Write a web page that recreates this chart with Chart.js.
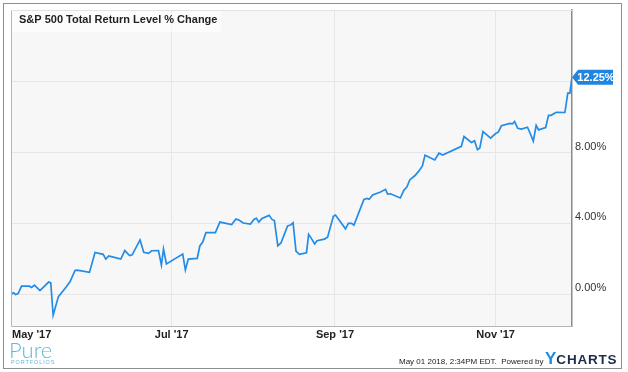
<!DOCTYPE html>
<html>
<head>
<meta charset="utf-8">
<script src="https://cdn.jsdelivr.net/npm/chart.js@4.4.1/dist/chart.umd.min.js"></script>
<style>
  html, body { margin: 0; padding: 0; background: #fff; }
  #wrap { position: relative; width: 628px; height: 372px; overflow: hidden; }
  #frame { position: absolute; left: 3px; top: 3px; width: 617px; height: 364px; border: 1px solid #8e8e8e; }
  #chart { position: absolute; left: 0; top: 0; }
  .txt { position: absolute; white-space: pre; font-family: "Liberation Sans", Arial, sans-serif; }
  #stamp { left: 399px; top: 357px; font-size: 8px; line-height: 10px; color: #222; }
  #brand { left: 545px; top: 350px; line-height: 18px; font-weight: bold; }
  #brand .y { font-size: 17px; color: #1a8fe3; }
  #brand .c { font-size: 13.5px; color: #1c2c4c; letter-spacing: 0.8px; }
  #pure { left: 9px; top: 339px; font-family: Lato, sans-serif; font-weight: 300; font-size: 22px; line-height: 21px; color: #62b9d3; }
  #pf { left: 11px; top: 359px; font-size: 5.5px; line-height: 6px; letter-spacing: 0.9px; color: #62b9d3; }
</style>
</head>
<body>
<div id="wrap">
  <div id="frame"></div>
  <canvas id="chart" width="628" height="372"></canvas>
  <div class="txt" id="stamp">May 01 2018, 2:34PM EDT.  Powered by</div>
  <div class="txt" id="brand"><span class="y">Y</span><span class="c">CHARTS</span></div>
  <div class="txt" id="pure">Pure</div>
  <div class="txt" id="pf">PORTFOLIOS</div>
</div>
<script>
// S&P 500 total return, % change since May 1 2017
// x = days since May 1 2017

const chartTitle = "S&P 500 Total Return Level % Change";
const monthDays = [0, 61, 123, 184];
const monthLabels = ["May '17", "Jul '17", "Sep '17", "Nov '17"];
const yTicks = [0, 4, 8, 12];

const days = [
  0, 1, 1.7, 2.7, 4, 7, 7.8, 8.9, 11, 14.3, 15.1, 16, 18, 20.5, 22.4, 24.3, 25.1, 29.8,
  31.9, 35, 36, 37.1, 39.2, 41.7, 43.2, 45, 46, 49, 50.4, 52.2, 53.4, 56, 57.1, 57.9,
  59, 65.2, 66.2, 67.3, 70.7, 71.7, 72.8, 74, 77.6, 79.3, 83.8, 85.4, 86.5, 88.2, 90.9,
  92.3, 93.2, 94.1, 95.3, 98, 99.1, 100, 101.3, 102.5, 105, 106.1, 107.1, 108.2, 109.5,
  112.2, 113, 114.2, 115.3, 116.2, 119, 120.2, 122.4, 123.2, 127, 128.1, 129.3, 130.2,
  134, 135.2, 136, 137.3, 140.3, 142.2, 143, 144.1, 147.8, 149.2, 150.3, 151.4, 153.4,
  154.9, 156.2, 157.2, 160.9, 162.5, 163.9, 171, 172, 174.8, 176, 177.1, 178, 179.2,
  182.1, 184, 185, 186.2, 189.4, 190.4, 191.2, 192.4, 193.8, 196.1, 197.1, 198.3, 199.4,
  200.3, 203, 204.1, 205.1, 207, 210.3, 211.4, 212.2, 213
];

const returns = [
  0.00, 0.08, -0.02, 0.03, 0.45, 0.45, 0.38, 0.51, 0.20, 0.68, 0.64, -1.19, -0.14, 0.32,
  0.70, 1.34, 1.36, 1.23, 2.35, 2.25, 1.98, 2.16, 2.08, 1.98, 2.46, 2.18, 2.22, 3.06,
  2.36, 2.30, 2.45, 2.46, 1.64, 2.55, 1.71, 2.26, 1.37, 1.98, 2.02, 2.72, 2.94, 3.47,
  3.47, 4.07, 3.93, 4.24, 4.19, 4.02, 3.96, 4.23, 4.28, 4.07, 4.28, 4.45, 4.22, 4.16,
  2.73, 2.89, 3.85, 3.90, 4.03, 2.43, 2.25, 2.34, 3.38, 3.11, 2.83, 3.02, 3.11, 3.22,
  4.40, 4.47, 3.69, 4.00, 4.00, 3.90, 5.35, 5.41, 5.36, 5.60, 5.77, 5.92, 5.65, 5.67,
  5.43, 5.88, 6.05, 6.45, 6.70, 6.96, 7.24, 7.85, 7.58, 7.96, 7.86, 8.35, 8.90, 8.57,
  8.67, 8.16, 8.26, 9.18, 8.81, 9.07, 9.15, 9.51, 9.64, 9.62, 9.75, 9.37, 9.32, 9.43,
  9.09, 8.64, 9.54, 9.28, 9.41, 10.10, 10.10, 10.27, 10.26, 11.36, 11.36, 12.25
];

const lineColor = "#238ce6";
const font = "'Liberation Sans', Arial, sans-serif";

// plot background + frame
const plotBackground = {
  id: "plotBackground",
  beforeDraw(chart) {
    const { ctx, chartArea: a } = chart;
    ctx.save();
    ctx.fillStyle = "#f7f7f7";
    ctx.fillRect(a.left, a.top, a.right - a.left, a.bottom - a.top);
    ctx.restore();
  },
  afterDatasetsDraw(chart) {
    const { ctx, chartArea: a } = chart;
    ctx.save();
    ctx.strokeStyle = "#b5b5b5";
    ctx.lineWidth = 1;
    ctx.beginPath();
    ctx.moveTo(a.left + 0.5, a.top);
    ctx.lineTo(a.left + 0.5, a.bottom + 0.5);
    ctx.lineTo(a.right, a.bottom + 0.5);
    ctx.stroke();
    ctx.strokeStyle = "#e2e2e2";
    ctx.beginPath();
    ctx.moveTo(a.left, a.top + 0.5);
    ctx.lineTo(a.right, a.top + 0.5);
    ctx.stroke();
    ctx.restore();
  },
};

// title box, month labels, last-value marker
const overlay = {
  id: "overlay",
  afterDraw(chart) {
    const { ctx, chartArea: a, scales } = chart;
    ctx.save();

    ctx.fillStyle = "rgba(255,255,255,0.6)";
    ctx.fillRect(a.left + 1, a.top + 1, 209, 21);
    ctx.fillStyle = "#222";
    ctx.font = "bold 11px " + font;
    ctx.textBaseline = "middle";
    ctx.textAlign = "left";
    ctx.fillText(chartTitle, 19, 20);

    ctx.fillStyle = "#222";
    monthDays.forEach((d, i) => {
      const x = scales.x.getPixelForValue(d);
      ctx.textAlign = i === 0 ? "left" : "center";
      ctx.fillText(monthLabels[i], i === 0 ? x + 1 : x, 335);
    });

    const last = returns[returns.length - 1];
    const y = scales.y.getPixelForValue(last);
    const x = a.right;
    ctx.fillStyle = "#1f85e0";
    ctx.beginPath();
    ctx.moveTo(x, y);
    ctx.lineTo(x + 6, y - 7.5);
    ctx.lineTo(x + 41, y - 7.5);
    ctx.lineTo(x + 41, y + 7.5);
    ctx.lineTo(x + 6, y + 7.5);
    ctx.closePath();
    ctx.fill();
    ctx.fillStyle = "#fff";
    ctx.textAlign = "center";
    ctx.fillText(last.toFixed(2) + "%", x + 24, y + 0.5);

    ctx.restore();
  },
};

new Chart(document.getElementById("chart"), {
  type: "line",
  data: {
    datasets: [
      {
        data: days.map((d, i) => ({ x: d, y: returns[i] })),
        borderColor: lineColor,
        borderWidth: 1.7,
        pointRadius: 0,
        tension: 0,
        fill: false,
      },
    ],
  },
  options: {
    responsive: false,
    animation: false,
    layout: { padding: { left: 11, top: 10, right: 0, bottom: 26 } },
    plugins: { legend: { display: false }, tooltip: { enabled: false } },
    scales: {
      x: {
        type: "linear",
        min: 0,
        max: 213,
        afterBuildTicks: (s) => {
          s.ticks = monthDays.map((v) => ({ value: v }));
        },
        afterFit: (s) => {
          s.height = 20;
          s.paddingLeft = 0;
          s.paddingRight = 0;
        },
        grid: { color: "#e6e6e6", drawTicks: false },
        border: { display: false },
        ticks: { display: false },
      },
      y: {
        position: "right",
        min: -1.8,
        max: 16.05,
        afterBuildTicks: (s) => {
          s.ticks = yTicks.map((v) => ({ value: v }));
        },
        afterFit: (s) => {
          s.width = 56;
          s.paddingTop = 0;
          s.paddingBottom = 0;
        },
        grid: { color: "#e6e6e6", drawTicks: false },
        border: { color: "#8a8a8a", width: 1.5 },
        ticks: {
          padding: 3,
          labelOffset: -6,
          color: "#333",
          font: { size: 11, family: font },
          callback: (v) => (v === 12 ? "" : v.toFixed(2) + "%"),
        },
      },
    },
  },
  plugins: [plotBackground, overlay],
});
</script>
</body>
</html>
